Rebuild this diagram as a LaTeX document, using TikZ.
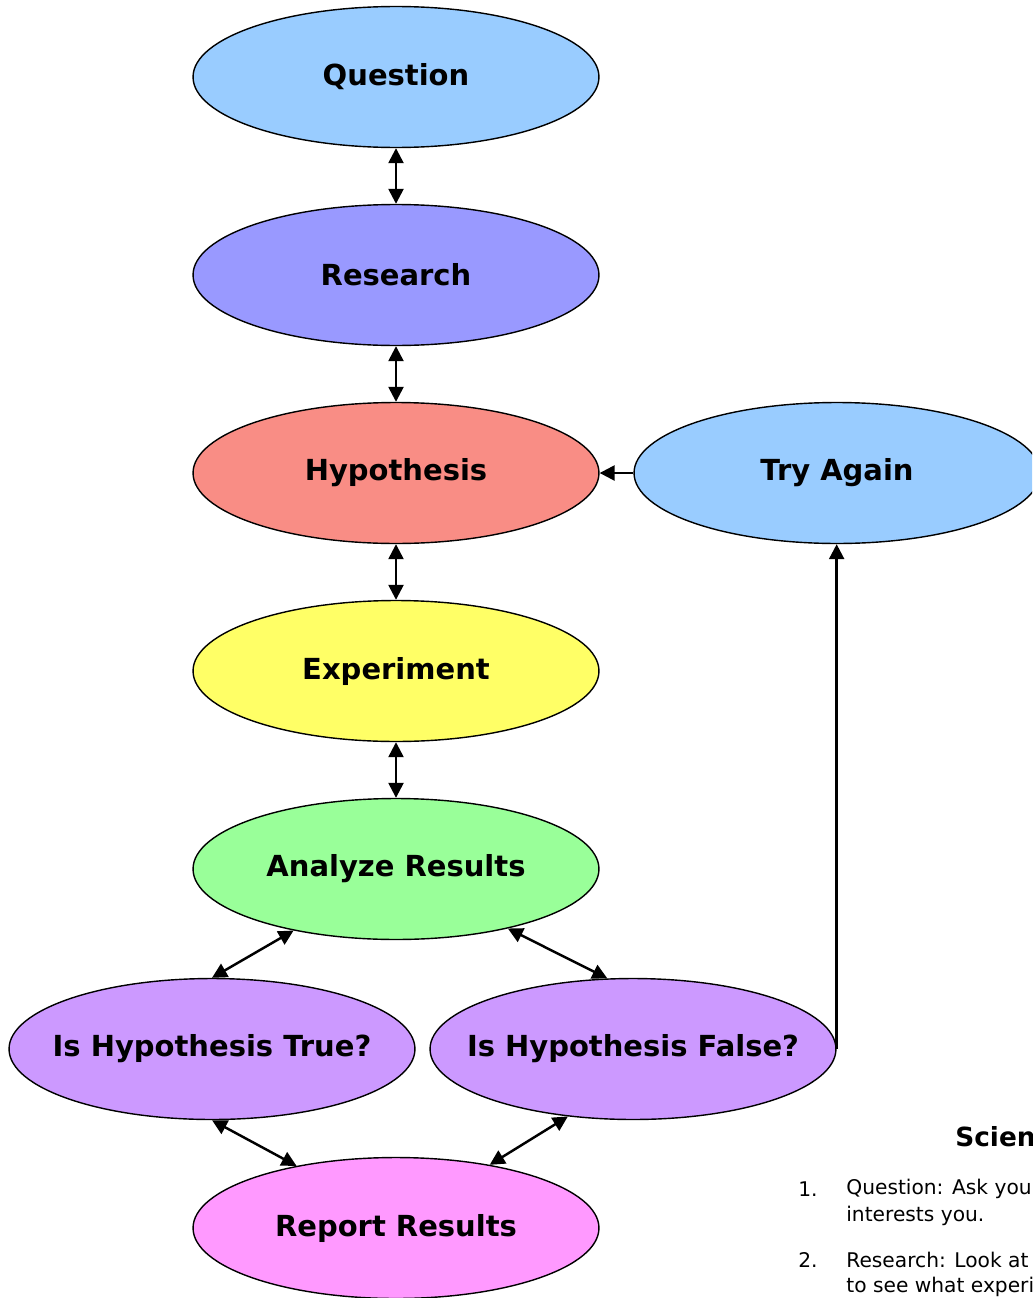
\documentclass[tikz,border=0pt]{standalone}
\usepackage{fontspec}
\setmainfont{DejaVu Sans}
\usetikzlibrary{shapes.geometric,arrows.meta}

\definecolor{qblue}{HTML}{99CCFF}
\definecolor{rblue}{HTML}{9999FF}
\definecolor{hred}{HTML}{F98D85}
\definecolor{eyellow}{HTML}{FFFF66}
\definecolor{agreen}{HTML}{99FF99}
\definecolor{ipurple}{HTML}{CC99FF}
\definecolor{rpink}{HTML}{FF99FF}

\begin{document}
\begin{tikzpicture}[x=0.02cm,y=-0.02cm,
  stage/.style={ellipse, draw, line width=0.8pt, inner sep=0pt,
    minimum width=8.12cm, minimum height=2.82cm,
    font=\bfseries\fontsize{16.5}{20}\selectfont},
  link/.style={line width=1.4pt, {Triangle[length=8.5pt,width=8.5pt]}-{Triangle[length=8.5pt,width=8.5pt]}},
  oneway/.style={line width=1.4pt, -{Triangle[length=8.5pt,width=8.5pt]}},
  steptext/.style={anchor=west, inner sep=0pt, font=\fontsize{11.5}{13}\selectfont}]

\useasboundingbox (0,0) rectangle (1032,1298);
\clip (0,0) rectangle (1032,1298);

\node[stage, fill=qblue] (q) at (396,77) {Question};
\node[stage, fill=rblue] (r) at (396,275) {Research};
\node[stage, fill=hred] (h) at (396,473) {Hypothesis};
\node[stage, fill=eyellow] (e) at (396,671) {Experiment};
\node[stage, fill=agreen] (a) at (396,869) {Analyze Results};
\node[stage, fill=ipurple] (t) at (212,1049) {\makebox[0pt]{Is Hypothesis True?}};
\node[stage, fill=ipurple] (f) at (633,1049) {\makebox[0pt]{Is Hypothesis False?}};
\node[stage, fill=rpink] (p) at (396,1228) {Report Results};
\node[stage, fill=qblue] (g) at (837,473) {Try Again};

\draw[link] (q) -- (r);
\draw[link] (r) -- (h);
\draw[link] (h) -- (e);
\draw[link] (e) -- (a);

\draw[link] (a.211) -- (t.north);
\draw[link] (a.332) -- (f.110);
\draw[link] (t.south) -- (p.148);
\draw[link] (f.226) -- (p.34);

\draw[oneway] (g.west) -- (h.east);
\draw[oneway] (f.east) -- (f.east |- g.south);

\node[anchor=west, inner sep=0pt, font=\bfseries\fontsize{15}{18}\selectfont] (title) at (955,1137) {Scien};

\node[steptext] (n1) at (798,1189) {1.};
\node[steptext] (s1a) at (846,1189) {Question: Ask you};
\node[steptext] (s1b) at (846,1216) {interests you.};
\node[steptext] (n2) at (798,1260) {2.};
\node[steptext] (s2a) at (846,1260) {Research: Look at};
\node[steptext] (s2b) at (846,1287) {to see what experi};

\end{tikzpicture}
\end{document}
